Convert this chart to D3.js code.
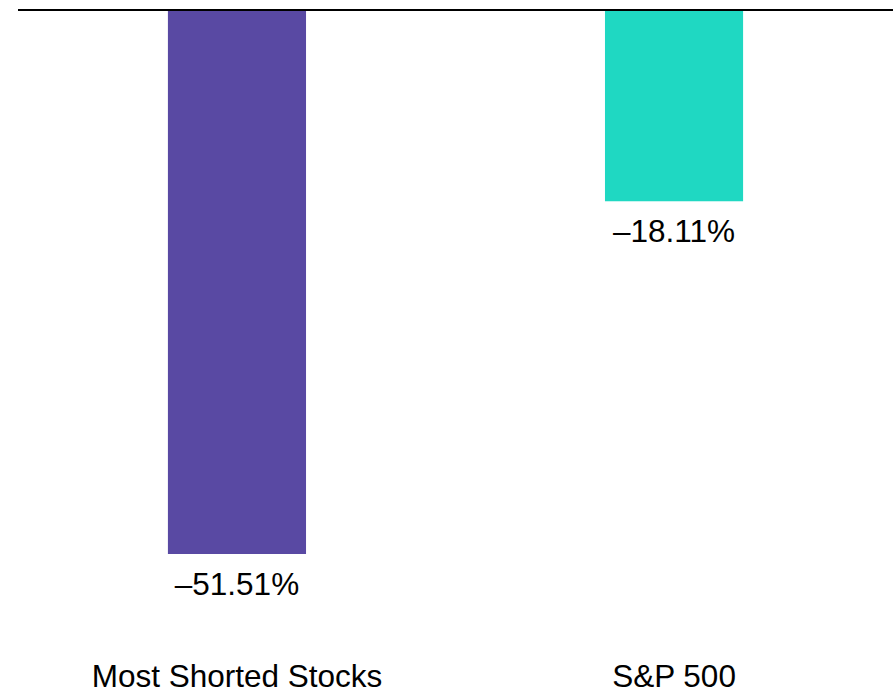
<!DOCTYPE html>
<html>
<head>
<meta charset="utf-8">
<script src="https://cdn.jsdelivr.net/npm/d3@7"></script>
<style>
  body { margin: 0; background: #fff; }
  text { font-family: "Liberation Sans", Arial, sans-serif; }
</style>
</head>
<body>
<div id="chart"></div>
<script>
const categories = ["Most Shorted Stocks", "S&P 500"];
const values = [-51.51, -18.11];
const valueLabels = ["\u201351.51%", "\u201318.11%"];
const colors = ["#5949a3", "#1fd8c2"];

const width = 896, height = 694;

const svg = d3.select("#chart").append("svg")
  .attr("width", width)
  .attr("height", height);

const x = d3.scaleBand()
  .domain(categories)
  .range([18, 893])
  .paddingInner(0.684)
  .paddingOuter(0.343);

const y = d3.scaleLinear()
  .domain([0, -51.51])
  .range([10, 554]);

svg.selectAll("rect.bar")
  .data(categories)
  .enter()
  .append("rect")
  .attr("class", "bar")
  .attr("x", d => x(d))
  .attr("width", x.bandwidth())
  .attr("y", y(0))
  .attr("height", (d, i) => y(values[i]) - y(0))
  .attr("fill", (d, i) => colors[i]);

// value labels under each bar
svg.selectAll("text.val")
  .data(categories)
  .enter()
  .append("text")
  .attr("class", "val")
  .attr("x", d => x(d) + x.bandwidth() / 2)
  .attr("y", (d, i) => y(values[i]) + 41)
  .attr("text-anchor", "middle")
  .attr("font-size", 31.5)
  .attr("fill", "#000")
  .text((d, i) => valueLabels[i]);

// category labels at the bottom
svg.selectAll("text.cat")
  .data(categories)
  .enter()
  .append("text")
  .attr("class", "cat")
  .attr("x", d => x(d) + x.bandwidth() / 2)
  .attr("y", 687)
  .attr("text-anchor", "middle")
  .attr("font-size", 31.5)
  .attr("fill", "#000")
  .text(d => d);

// zero line
svg.append("line")
  .attr("x1", 18)
  .attr("x2", 893)
  .attr("y1", y(0))
  .attr("y2", y(0))
  .attr("stroke", "#000")
  .attr("stroke-width", 2);
</script>
</body>
</html>
